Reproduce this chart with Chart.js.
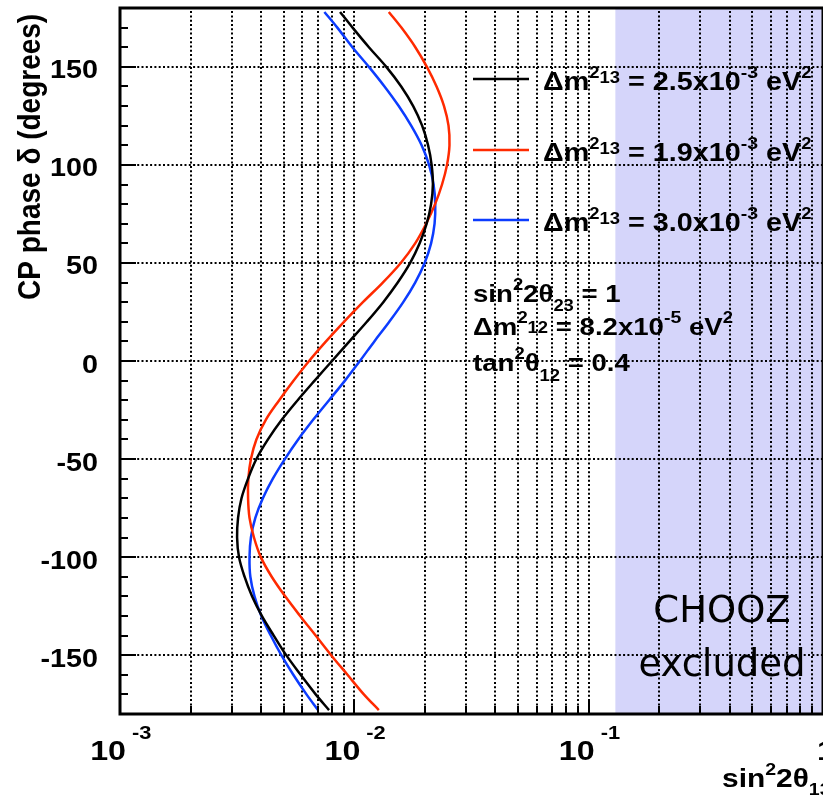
<!DOCTYPE html>
<html>
<head>
<meta charset="utf-8">
<script src="https://cdn.jsdelivr.net/npm/chart.js@4.4.0/dist/chart.umd.min.js"></script>
<style>
    html, body { margin: 0; padding: 0; background: #fff; }
    canvas { display: block; }
</style>
</head>
<body>
<canvas id="cp-phase-chart" width="823" height="803"></canvas>
<script>
'use strict';

// CP phase (degrees), read top to bottom along each curve
const deltaDeg = [178, 170, 160, 150, 140, 130, 120, 110, 100, 90, 80, 70, 60, 50, 40, 30, 20, 10, 0,
    -10, -20, -30, -40, -50, -60, -70, -80, -90, -100, -110, -120, -130, -140, -150, -160, -170, -178];

// sin^2 2theta13 for each delta, one array per dm^2_13
const sinDm25 = [0.00869, 0.00983, 0.01154, 0.01369, 0.01585, 0.01783, 0.01947, 0.02064, 0.02137, 0.02164,
    0.02126, 0.02035, 0.019, 0.01731, 0.01532, 0.01329, 0.01131, 0.00953, 0.00803, 0.00677,
    0.00573, 0.0049, 0.00428, 0.00382, 0.00352, 0.0033, 0.00319, 0.00316, 0.00322, 0.0034,
    0.00366, 0.00403, 0.00453, 0.00512, 0.0059, 0.00684, 0.0078];
const sinDm19 = [0.01403, 0.01588, 0.01821, 0.0204, 0.02243, 0.02414, 0.02523, 0.02547, 0.02486, 0.02367,
    0.02211, 0.02025, 0.01818, 0.01578, 0.01323, 0.01088, 0.00903, 0.00757, 0.00641, 0.00551,
    0.00478, 0.00419, 0.00382, 0.00362, 0.00353, 0.00352, 0.00357, 0.00373, 0.00399, 0.00444,
    0.00507, 0.00587, 0.00684, 0.00796, 0.00935, 0.01098, 0.01272];
const sinDm30 = [0.00745, 0.00846, 0.00981, 0.01154, 0.01345, 0.01547, 0.01748, 0.01937, 0.02084, 0.02178,
    0.02215, 0.022, 0.02126, 0.01995, 0.01818, 0.01617, 0.0141, 0.01217, 0.01056, 0.00912,
    0.0078, 0.00667, 0.00576, 0.00505, 0.00449, 0.00407, 0.00378, 0.00362, 0.00357, 0.0036,
    0.00375, 0.00401, 0.0044, 0.00488, 0.00549, 0.00625, 0.007];

const seriesLabels = ['2.5', '1.9', '3.0'];
const seriesColors = ['#000000', '#ff2a00', '#0c3cff'];

const choozLimit = 0.13;
const xDecades = [-3, -2, -1, 0];
const yMajorTicks = [-150, -100, -50, 0, 50, 100, 150];

const FONT = '"Liberation Sans", Arial, Helvetica, sans-serif';
const STRETCH = 1.15; // the original glyphs are wider than plain Arial

// draw a run of [text, size, dy] pieces, stretched horizontally
function drawRich(ctx, x, y, parts, align) {
    ctx.save();
    ctx.translate(x, y);
    ctx.scale(STRETCH, 1);
    ctx.textBaseline = 'alphabetic';
    ctx.textAlign = 'left';
    let total = 0;
    parts.forEach(([t, size]) => {
        ctx.font = `bold ${size}px ${FONT}`;
        total += ctx.measureText(t).width;
    });
    let cx = align === 'right' ? -total : 0;
    parts.forEach(([t, size, dy]) => {
        ctx.font = `bold ${size}px ${FONT}`;
        ctx.fillText(t, cx, dy || 0);
        cx += ctx.measureText(t).width;
    });
    ctx.restore();
}

const rootStylePlugin = {
    id: 'rootStyle',

    beforeDraw(chart) {
        const {ctx, chartArea: a, scales: {x}} = chart;
        // CHOOZ excluded band
        const x0 = x.getPixelForValue(choozLimit);
        ctx.save();
        ctx.fillStyle = '#d5d5fa';
        ctx.fillRect(x0, a.top, a.right - x0, a.bottom - a.top);
        ctx.restore();
    },

    beforeDatasetsDraw(chart) {
        const {ctx, chartArea: a, scales: {x, y}} = chart;
        ctx.save();
        ctx.strokeStyle = '#000';
        ctx.lineWidth = 2;
        ctx.setLineDash([2, 2.3]);
        // vertical dotted grid at every log tick
        xDecades.forEach(e => {
            for (let m = 1; m <= 9; m++) {
                const v = m * Math.pow(10, e);
                if (v <= 0.001 || v >= 1) continue;
                const px = Math.round(x.getPixelForValue(v));
                ctx.beginPath();
                ctx.moveTo(px, a.bottom);
                ctx.lineTo(px, a.top);
                ctx.stroke();
            }
        });
        // horizontal dotted grid at the labelled phases
        yMajorTicks.forEach(v => {
            const py = Math.round(y.getPixelForValue(v));
            ctx.beginPath();
            ctx.moveTo(a.left, py);
            ctx.lineTo(a.right, py);
            ctx.stroke();
        });
        ctx.restore();
    },

    afterDraw(chart) {
        const {ctx, chartArea: a, scales: {x, y}} = chart;
        ctx.save();

        // tick marks, pointing into the frame
        ctx.strokeStyle = '#000';
        ctx.lineWidth = 2;
        for (let v = -170; v <= 170; v += 10) {
            const py = Math.round(y.getPixelForValue(v));
            const len = v % 50 === 0 ? 16 : 8;
            ctx.beginPath();
            ctx.moveTo(a.left, py);
            ctx.lineTo(a.left + len, py);
            ctx.stroke();
        }
        xDecades.forEach(e => {
            for (let m = 1; m <= 9; m++) {
                const v = m * Math.pow(10, e);
                if (v > 1) continue;
                const px = Math.round(x.getPixelForValue(v));
                const len = m === 1 ? 15 : 8;
                ctx.beginPath();
                ctx.moveTo(px, a.bottom);
                ctx.lineTo(px, a.bottom - len);
                ctx.stroke();
            }
        });

        // frame
        ctx.lineWidth = 3;
        ctx.strokeRect(a.left, a.top, a.right - a.left, a.bottom - a.top);

        ctx.fillStyle = '#000';

        // y tick labels
        yMajorTicks.forEach(v => {
            const py = y.getPixelForValue(v);
            drawRich(ctx, 98, py + 11.5, [[String(v), 25]], 'right');
        });

        // x tick labels as 10^n
        xDecades.forEach(e => {
            const px = x.getPixelForValue(Math.pow(10, e));
            if (e === 0) {
                drawRich(ctx, px - 6, 760, [['1', 28]]);
                return;
            }
            drawRich(ctx, px + 6, 760, [['10', 28]], 'right');
            drawRich(ctx, px + 12, 739, [[String(e), 19]]);
        });

        // axis titles
        drawRich(ctx, 722, 787, [['sin', 26], ['2', 17, -12], ['2\u03b8', 26], ['13', 17, 8]]);

        ctx.save();
        ctx.translate(40, 300);
        ctx.scale(STRETCH, 1);
        ctx.rotate(-Math.PI / 2);
        ctx.font = `bold 28px ${FONT}`;
        ctx.textAlign = 'left';
        ctx.textBaseline = 'alphabetic';
        ctx.fillText('CP phase \u03b4 (degrees)', 0, 0);
        ctx.restore();

        // legend
        const legendRows = [79, 150, 220];
        legendRows.forEach((ly, i) => {
            ctx.strokeStyle = seriesColors[i];
            ctx.lineWidth = 2.5;
            ctx.setLineDash([]);
            ctx.beginPath();
            ctx.moveTo(473, ly);
            ctx.lineTo(529, ly);
            ctx.stroke();
            drawRich(ctx, 543, ly + 11, [
                ['\u0394m', 25], ['2', 16, -12], ['13', 16, -7],
                [' = ' + seriesLabels[i] + 'x10', 25], ['-3', 17, -12],
                [' eV', 25], ['2', 16, -12]
            ]);
        });

        // fixed oscillation parameters
        drawRich(ctx, 473, 302, [['sin', 24], ['2', 16, -12], ['2\u03b8', 24], ['23', 16, 9], [' = 1', 24]]);
        drawRich(ctx, 473, 335, [['\u0394m', 24], ['2', 16, -12], ['12', 16, -2],
            [' = 8.2x10', 24], ['-5', 17, -12], [' eV', 24], ['2', 16, -12]]);
        drawRich(ctx, 473, 371, [['tan', 24], ['2', 16, -12], ['\u03b8', 24], ['12', 16, 10], [' = 0.4', 24]]);

        // CHOOZ label
        ctx.font = `37px "Comic Sans MS", "DejaVu Sans", sans-serif`;
        ctx.textAlign = 'center';
        ctx.fillText('CHOOZ', 722, 622);
        ctx.fillText('excluded', 722, 676);

        ctx.restore();
    }
};

class CpPhaseChart {
    constructor(canvasId) {
        this.canvas = document.getElementById(canvasId);
        this.chart = null;
        this.init();
    }

    buildDatasets() {
        const curves = [sinDm25, sinDm19, sinDm30];
        return curves.map((vals, i) => ({
            label: '\u0394m\u00b213 = ' + seriesLabels[i] + 'x10-3 eV\u00b2',
            data: deltaDeg.map((d, k) => ({x: vals[k], y: d})),
            borderColor: seriesColors[i],
            borderWidth: 2.5,
            showLine: true,
            pointRadius: 0,
            tension: 0.35,
            fill: false
        }));
    }

    init() {
        this.chart = new Chart(this.canvas.getContext('2d'), {
            type: 'scatter',
            data: {datasets: this.buildDatasets()},
            options: {
                responsive: false,
                animation: false,
                devicePixelRatio: 1,
                layout: {
                    padding: {left: 120, top: 8, right: -3, bottom: 89}
                },
                scales: {
                    x: {type: 'logarithmic', min: 0.001, max: 1, display: false},
                    y: {type: 'linear', min: -180, max: 180, display: false}
                },
                plugins: {
                    legend: {display: false},
                    tooltip: {enabled: false}
                }
            },
            plugins: [rootStylePlugin]
        });
    }
}

window.cpPhaseChart = new CpPhaseChart('cp-phase-chart');
</script>
</body>
</html>
